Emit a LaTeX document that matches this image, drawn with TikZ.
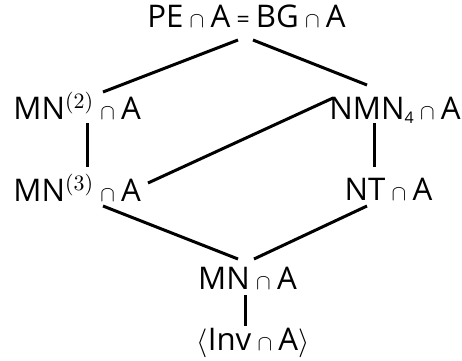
\documentclass[tikz,border=0pt]{standalone}
\usepackage{fontspec}
\setsansfont{Open Sans}
\newcommand{\meet}{\hspace{0.2em}{\fontsize{10.5}{11}\selectfont$\cap$}\hspace{0.2em}}
\newcommand{\eqs}{\hspace{0.2em}{\fontsize{11.5}{12}\selectfont=}\hspace{0.2em}}
\newcommand{\lev}[1]{{\fontsize{15}{15}\selectfont$^{(#1)}$}}
\newcommand{\low}[1]{\raisebox{-2pt}{\fontsize{8}{9}\selectfont#1}}

\begin{document}
\begin{tikzpicture}[x=0.5pt,y=-0.5pt,font=\fontsize{15.6}{18}\selectfont\sffamily,
   every node/.style={inner sep=0pt},
   lattice/.style={line width=1.5pt}]
   \useasboundingbox (0,0) rectangle (462,360);
   % the classes
   \node[anchor=base] (pe) at (246.5,27) {PE\meet A\eqs BG\meet A};
   \node[anchor=base west] (mn2) at (13,119) {MN\lev{2}\meet A};
   \node[anchor=base east] (nmn4) at (461,119) {NMN\low{4}\meet A};
   \node[anchor=base west] (mn3) at (13,201) {MN\lev{3}\meet A};
   \node[anchor=base] (nt) at (388.5,200) {NT\meet A};
   \node[anchor=base] (mn) at (247.5,289) {MN\meet A};
   \node[anchor=base] (inv) at (253,350) {$\langle$Inv\meet A$\rangle$};
   % the inclusions
   \draw[lattice] ([shift={(-8.5,13)}]pe.base) -- ([shift={(90,-27)}]mn2.base west);
   \draw[lattice] ([shift={(6.5,13)}]pe.base) -- ([shift={(-94,-34)}]nmn4.base east);
   \draw[lattice] ([shift={(75,4)}]mn2.base west) -- ([shift={(75,-34)}]mn3.base west);
   \draw[lattice] ([shift={(-86,4)}]nmn4.base east) -- ([shift={(-13.5,-33)}]nt.base);
   \draw[lattice] ([shift={(135,-18)}]mn3.base west) -- ([shift={(-128,-21)}]nmn4.base east);
   \draw[lattice] ([shift={(90,5)}]mn3.base west) -- ([shift={(-9.5,-30)}]mn.base);
   \draw[lattice] ([shift={(-21.5,6)}]nt.base) -- ([shift={(6.5,-30)}]mn.base);
   \draw[lattice] ([shift={(-1.5,6)}]mn.base) -- ([shift={(-7,-24)}]inv.base);
\end{tikzpicture}
\end{document}
